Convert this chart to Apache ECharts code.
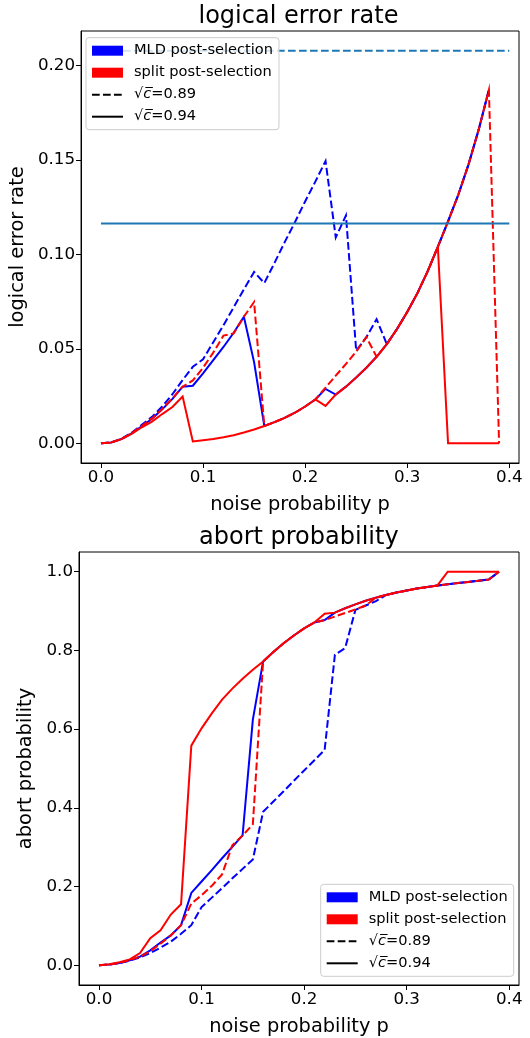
<!DOCTYPE html>
<html><head><meta charset="utf-8">
<script src="https://cdn.jsdelivr.net/npm/echarts@6/dist/echarts.min.js"></script>
<style>html,body{margin:0;padding:0;background:#fff}#c{width:530px;height:1038px}</style>
</head><body><div id="c"></div>
<script>
// ---- data ----
const p = [0,0.01,0.02,0.03,0.04,0.05,0.06,0.07,0.08,0.09,0.10,0.11,0.12,0.13,0.14,0.15,0.16,0.17,0.18,0.19,
           0.20,0.21,0.22,0.23,0.24,0.25,0.26,0.27,0.28,0.29,0.30,0.31,0.32,0.33,0.34,0.35,0.36,0.37,0.38,0.39];

// logical error rate (null = not defined, everything aborted)
const errMLD089 = [0,0.0005,0.0024,0.0056,0.0098,0.0140,0.0195,0.0260,0.0335,0.0405,0.0445,0.0535,0.0625,0.0720,0.0815,0.0907,0.0848,0.0955,0.1065,0.1170,
                   0.1280,0.1385,0.1494,0.1090,0.1206,0.0490,0.0562,0.0657,0.0525,0.0605,0.0695,0.0795,0.0910,0.1040,0.1175,0.1315,0.1475,0.1660,0.1870,null];
const errMLD094 = [0,0.0005,0.0023,0.0053,0.0090,0.0130,0.0180,0.0235,0.0300,0.0305,0.0370,0.0440,0.0510,0.0585,0.0670,0.0430,0.0092,0.0112,0.0135,0.0162,
                   0.0195,0.0232,0.0288,0.0258,0.0300,0.0348,0.0400,0.0458,0.0525,0.0605,0.0695,0.0795,0.0910,0.1040,0.1175,0.1315,0.1475,0.1660,0.1870,null];
const errSplit089 = [0,0.0005,0.0023,0.0053,0.0092,0.0132,0.0182,0.0238,0.0300,0.0333,0.0400,0.0480,0.0570,0.0582,0.0670,0.0748,0.0092,0.0112,0.0135,0.0162,
                     0.0195,0.0232,0.0295,0.0358,0.0420,0.0485,0.0562,0.0458,0.0525,0.0605,0.0695,0.0795,0.0910,0.1040,0.1175,0.1315,0.1475,0.1660,0.1870,0];
const errSplit094 = [0,0.0005,0.0022,0.0050,0.0085,0.0115,0.0155,0.0192,0.0248,0.0010,0.0016,0.0023,0.0032,0.0043,0.0057,0.0073,0.0092,0.0112,0.0135,0.0162,
                     0.0195,0.0232,0.0198,0.0258,0.0300,0.0348,0.0400,0.0458,0.0525,0.0605,0.0695,0.0795,0.0910,0.1040,0,0,0,0,0,0];
const hlineX = [0, 0.4];
const hlineDashedY = 0.2078;
const hlineSolidY = 0.1164;

// abort probability
const abortMLD089 = [0,0.002,0.006,0.012,0.020,0.031,0.045,0.060,0.080,0.102,0.148,0.172,0.196,0.221,0.245,0.269,0.390,0.416,0.442,0.469,
                     0.495,0.521,0.547,0.789,0.806,0.903,0.914,0.925,0.941,0.947,0.952,0.957,0.961,0.965,0.968,0.971,0.974,0.977,0.980,1];
const abortMLD094 = [0,0.002,0.006,0.013,0.022,0.038,0.058,0.076,0.102,0.184,0.213,0.242,0.272,0.301,0.330,0.624,0.772,0.796,0.818,0.838,
                     0.856,0.871,0.877,0.896,0.907,0.917,0.926,0.934,0.941,0.947,0.952,0.957,0.961,0.965,0.968,0.971,0.974,0.977,0.980,1];
const abortSplit089 = [0,0.002,0.006,0.013,0.022,0.036,0.055,0.076,0.102,0.157,0.178,0.202,0.231,0.305,0.330,0.358,0.772,0.796,0.818,0.838,
                       0.856,0.871,0.877,0.886,0.895,0.904,0.914,0.934,0.941,0.947,0.952,0.957,0.961,0.965,0.968,0.971,0.974,0.977,0.980,1];
const abortSplit094 = [0,0.003,0.008,0.015,0.031,0.069,0.089,0.129,0.155,0.558,0.602,0.640,0.675,0.703,0.728,0.751,0.772,0.796,0.818,0.838,
                       0.856,0.871,0.893,0.896,0.907,0.917,0.926,0.934,0.941,0.947,0.952,0.957,0.961,0.965,1,1,1,1,1,1];

const xTicks = [0, 0.1, 0.2, 0.3, 0.4];
const errTicks = [0, 0.05, 0.10, 0.15, 0.20];
const abortTicks = [0, 0.2, 0.4, 0.6, 0.8, 1.0];

const legendNames = ['MLD post-selection', 'split post-selection', '√c=0.89', '√c=0.94'];
const titles = ['logical error rate', 'abort probability'];
const xName = 'noise probability p';
const yNames = ['logical error rate', 'abort probability'];

// ---- styling ----
const FONT = 'DejaVu Sans';
const BLUE = '#0000ff', RED = '#ff0000', C0 = '#1f77b4';
const DASH = [7.7, 3.3];
const CLEAR = 'rgba(0,0,0,0)';
const pair = (xs, ys) => xs.map((x, i) => [x, ys[i] === null ? null : ys[i]]);

function line(name, gi, xs, ys, color, dashed, z) {
  return {
    type: 'line', name, xAxisIndex: gi, yAxisIndex: gi, data: pair(xs, ys),
    symbol: 'none', silent: true, animation: false, z: z || 2, connectNulls: false,
    lineStyle: { color, width: 2, type: dashed ? DASH : 'solid', cap: 'butt', join: 'miter' },
    itemStyle: { color }
  };
}

function xAxis(gi) {
  return {
    type: 'value', gridIndex: gi, min: -0.0195, max: 0.4095,
    axisLine: { onZero: false, lineStyle: { color: '#000', width: 1 } },
    axisTick: { customValues: xTicks, length: 5, lineStyle: { color: '#000', width: 1 } },
    axisLabel: { customValues: xTicks, formatter: v => v.toFixed(1), fontFamily: FONT, fontSize: 16.7, color: '#000', margin: 6 },
    splitLine: { show: false },
    name: xName, nameLocation: 'middle', nameGap: 32,
    nameTextStyle: { fontFamily: FONT, fontSize: 19.4, color: '#000' }
  };
}
function yAxis(gi, min, max, ticks, dec, nameGap) {
  return {
    type: 'value', gridIndex: gi, min, max,
    axisLine: { onZero: false, lineStyle: { color: '#000', width: 1 } },
    axisTick: { customValues: ticks, length: 5, lineStyle: { color: '#000', width: 1 } },
    axisLabel: { customValues: ticks, formatter: v => v.toFixed(dec), fontFamily: FONT, fontSize: 16.7, color: '#000', margin: 6 },
    splitLine: { show: false },
    name: yNames[gi], nameLocation: 'middle', nameGap, nameRotate: 90,
    nameTextStyle: { fontFamily: FONT, fontSize: 19.4, color: '#000' }
  };
}
const hideDot = { color: CLEAR, borderColor: CLEAR, borderWidth: 0 };
function legend(left, top) {
  return {
    orient: 'vertical', left, top, selectedMode: false,
    itemWidth: 31, itemHeight: 10, itemGap: 6, padding: [5, 6, 5, 5],
    backgroundColor: 'rgba(255,255,255,0.8)', borderColor: '#cccccc', borderWidth: 1, borderRadius: 3,
    data: [
      { name: legendNames[0], icon: 'rect' },
      { name: legendNames[1], icon: 'rect' },
      { name: legendNames[2], itemStyle: hideDot },
      { name: legendNames[3], itemStyle: hideDot }
    ],
    formatter: n => n.startsWith('√') ? '{t|√}{i|c\u0305}{t|' + n.slice(2) + '}' : n,
    textStyle: {
      fontFamily: FONT, fontSize: 14.6, lineHeight: 16, color: '#000', padding: [0, 0, 0, 6],
      rich: {
        t: { fontFamily: FONT, fontSize: 14.6, lineHeight: 16, color: '#000' },
        i: { fontFamily: FONT, fontSize: 14.6, lineHeight: 16, color: '#000', fontStyle: 'italic' }
      }
    },
    z: 10
  };
}

const option = {
  backgroundColor: '#ffffff',
  animation: false,
  title: [
    { text: titles[0], left: 198.5, top: 5, padding: 0, textStyle: { fontFamily: FONT, fontSize: 24, fontWeight: 'normal', color: '#000' } },
    { text: titles[1], left: 199, top: 526, padding: 0, textStyle: { fontFamily: FONT, fontSize: 24, fontWeight: 'normal', color: '#000' } }
  ],
  grid: [
    { left: 79, top: 31, width: 440, height: 432, show: true, borderColor: '#000', borderWidth: 1, backgroundColor: 'transparent' },
    { left: 79, top: 552, width: 440, height: 433, show: true, borderColor: '#000', borderWidth: 1, backgroundColor: 'transparent' }
  ],
  xAxis: [xAxis(0), xAxis(1)],
  yAxis: [yAxis(0, -0.0104, 0.2182, errTicks, 2, 54), yAxis(1, -0.05, 1.05, abortTicks, 1, 42)],
  legend: [legend(86, 37.7), legend(320.7, 884.3)],
  series: [
    // legend proxies
    { type: 'line', name: legendNames[0], xAxisIndex: 0, yAxisIndex: 0, data: [], symbol: 'none', itemStyle: { color: BLUE }, lineStyle: { color: BLUE } },
    { type: 'line', name: legendNames[1], xAxisIndex: 0, yAxisIndex: 0, data: [], symbol: 'none', itemStyle: { color: RED }, lineStyle: { color: RED } },
    { type: 'line', name: legendNames[2], xAxisIndex: 0, yAxisIndex: 0, data: [], symbol: 'none', itemStyle: { color: CLEAR }, lineStyle: { color: '#000', width: 2, type: DASH } },
    { type: 'line', name: legendNames[3], xAxisIndex: 0, yAxisIndex: 0, data: [], symbol: 'none', itemStyle: { color: CLEAR }, lineStyle: { color: '#000', width: 2, type: 'solid' } },
    // logical error rate
    line('err MLD 0.89', 0, p, errMLD089, BLUE, true),
    line('err MLD 0.94', 0, p, errMLD094, BLUE, false),
    line('err split 0.89', 0, p, errSplit089, RED, true),
    line('err split 0.94', 0, p, errSplit094, RED, false),
    line('threshold dashed', 0, hlineX, [hlineDashedY, hlineDashedY], C0, true, 3),
    line('threshold solid', 0, hlineX, [hlineSolidY, hlineSolidY], C0, false, 3),
    // abort probability
    line('abort MLD 0.89', 1, p, abortMLD089, BLUE, true),
    line('abort MLD 0.94', 1, p, abortMLD094, BLUE, false),
    line('abort split 0.89', 1, p, abortSplit089, RED, true),
    line('abort split 0.94', 1, p, abortSplit094, RED, false)
  ]
};
const chart = echarts.init(document.getElementById('c'), null, { renderer: 'canvas' });
chart.setOption(option);
</script>
</body></html>
